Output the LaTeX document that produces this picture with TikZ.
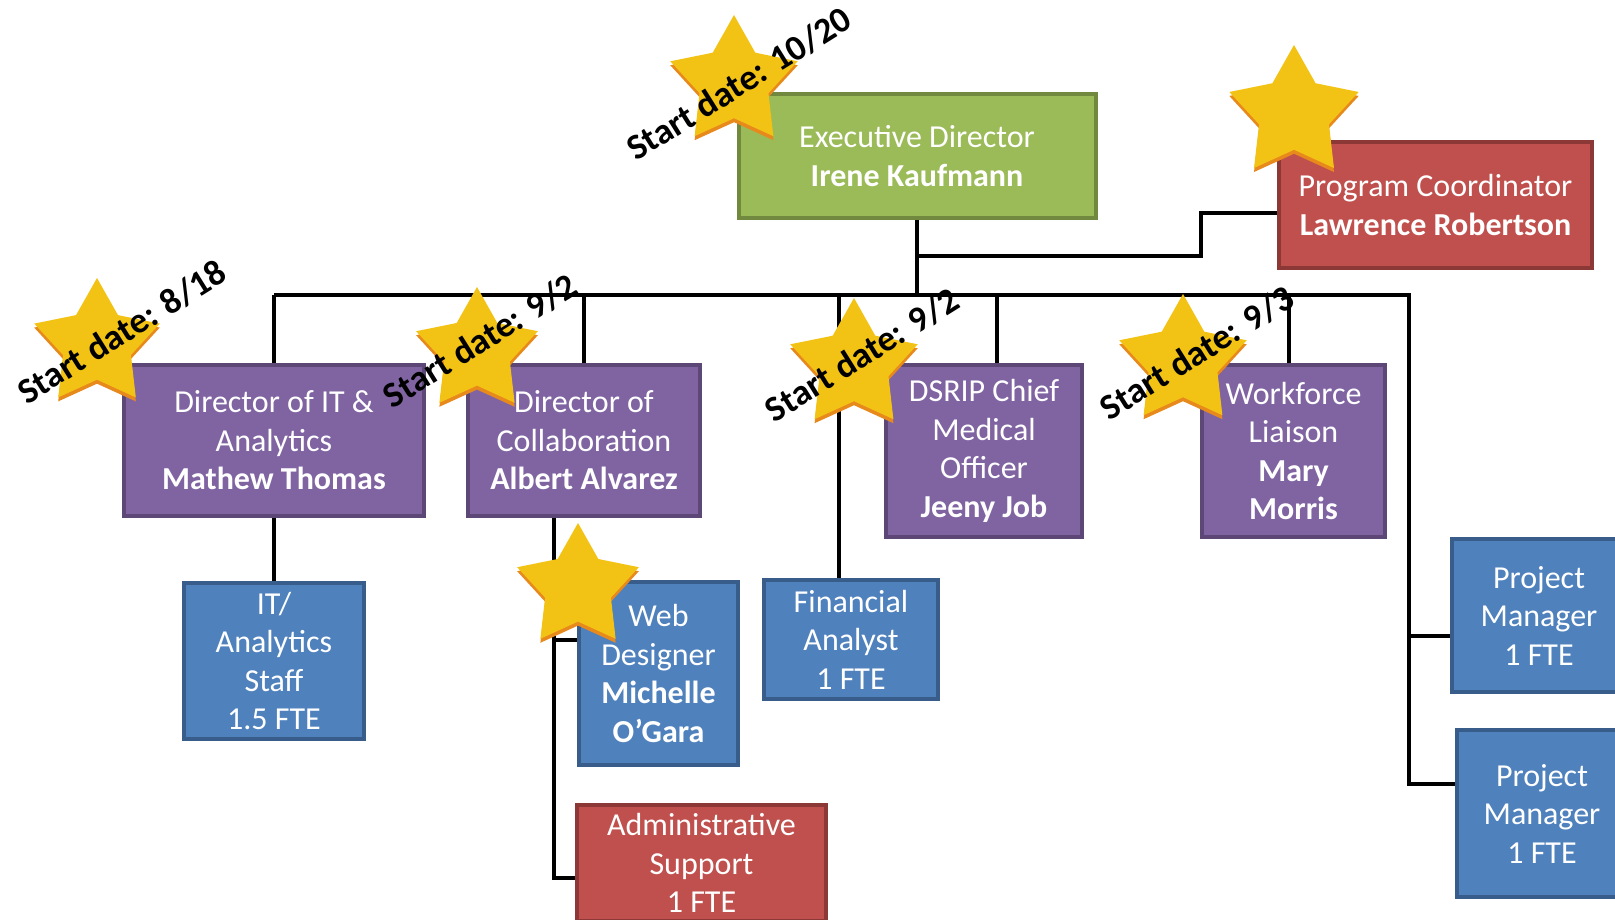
\documentclass[tikz,border=0pt]{standalone}
\usepackage{fontspec}
\setmainfont{Carlito}
\usetikzlibrary{shapes.geometric}

\definecolor{boxgreen}{HTML}{9BBB59}
\definecolor{boxgreenline}{HTML}{71893F}
\definecolor{boxred}{HTML}{C0504D}
\definecolor{boxredline}{HTML}{8C3836}
\definecolor{boxpurple}{HTML}{8064A2}
\definecolor{boxpurpleline}{HTML}{5C4776}
\definecolor{boxblue}{HTML}{4F81BD}
\definecolor{boxblueline}{HTML}{385D8A}
\definecolor{stargold}{HTML}{F2C314}
\definecolor{starorange}{HTML}{E8891C}

\begin{document}
\begin{tikzpicture}[x=1pt,y=-1pt,
  orgbox/.style={rectangle, line width=4pt, text=white, align=center, inner sep=0pt,
    font=\fontsize{32}{38.5}\selectfont},
  greenbox/.style={orgbox, fill=boxgreen, draw=boxgreenline},
  redbox/.style={orgbox, fill=boxred, draw=boxredline},
  purplebox/.style={orgbox, fill=boxpurple, draw=boxpurpleline},
  bluebox/.style={orgbox, fill=boxblue, draw=boxblueline},
  conn/.style={line width=4pt, draw=black},
  goldstar/.style={star, star points=5, star point ratio=1.85, inner sep=0pt, fill=stargold},
  startlabel/.style={rotate=32, inner sep=0pt, font=\fontsize{36}{40}\selectfont\bfseries}]

  \useasboundingbox (0,0) rectangle (1615,920);

  % Boxes
  \node[greenbox, minimum width=357pt, minimum height=124pt] (exec) at (917,156)
    {Executive Director\\\textbf{Irene Kaufmann}};
  \node[redbox, minimum width=313pt, minimum height=126pt] (progc) at (1435.5,205)
    {Program Coordinator\\\textbf{Lawrence Robertson}};

  \node[purplebox, minimum width=300pt, minimum height=151pt] (dirit) at (274,440.5)
    {Director of IT \&\\Analytics\\\textbf{Mathew Thomas}};
  \node[purplebox, minimum width=232pt, minimum height=151pt] (dircol) at (584,440.5)
    {Director of\\Collaboration\\\textbf{Albert Alvarez}};
  \node[purplebox, minimum width=196pt, minimum height=172pt] (dsrip) at (984,451)
    {DSRIP Chief\\Medical\\Officer\\\textbf{Jeeny Job}};
  \node[purplebox, minimum width=183pt, minimum height=172pt] (wfl) at (1293.5,451)
    {Workforce\\Liaison\\\textbf{Mary}\\\textbf{Morris}};

  \node[bluebox, minimum width=180pt, minimum height=156pt] (itstaff) at (274,661)
    {IT/\\Analytics\\Staff\\1.5 FTE};
  \node[bluebox, minimum width=159pt, minimum height=183pt] (webdes) at (658.5,673.5)
    {Web\\Designer\\\textbf{Michelle}\\\textbf{O’Gara}};
  \node[bluebox, minimum width=174pt, minimum height=119pt] (finan) at (851,639.5)
    {Financial\\Analyst\\1 FTE};
  \node[redbox, minimum width=249pt, minimum height=116pt] (admin) at (701.5,863)
    {Administrative\\Support\\1 FTE};
  \node[bluebox, minimum width=174pt, minimum height=153pt] (pmA) at (1539,615.5)
    {Project\\Manager\\1 FTE};
  \node[bluebox, minimum width=170pt, minimum height=167pt] (pmB) at (1542,813.5)
    {Project\\Manager\\1 FTE};

  % Connectors
  \coordinate (busL) at (274,295);
  \coordinate (busR) at (1409,295);
  \coordinate (pcA) at (917,256);
  \coordinate (pcB) at (1201,213);
  \coordinate (dFin) at (839,295);
  \coordinate (dDsrip) at (997,295);
  \coordinate (dWfl) at (1289,295);
  \coordinate (cWeb) at (554,640);
  \coordinate (cAdm) at (554,878);
  \coordinate (rPmA) at (1409,636);
  \coordinate (rPmB) at (1409,784);

  \draw[conn] (exec.south) -- (exec.south |- busL);
  \draw[conn] (pcA) -| (pcB) -- (pcB -| progc.west);
  \draw[conn] (busL) -- (busR) -- (rPmB) -- (rPmB -| pmB.west);
  \draw[conn] (rPmA) -- (rPmA -| pmA.west);
  \draw[conn] (busL) -- (dirit.north);
  \draw[conn] (dircol.north |- busL) -- (dircol.north);
  \draw[conn] (dFin) -- (dFin |- finan.north);
  \draw[conn] (dDsrip) -- (dDsrip |- dsrip.north);
  \draw[conn] (dWfl) -- (dWfl |- wfl.north);
  \draw[conn] (dirit.south) -- (itstaff.north);
  \draw[conn] (cWeb |- dircol.south) -- (cAdm) -- (cAdm -| admin.west);
  \draw[conn] (cWeb) -- (cWeb -| webdes.west);

  % Stars with their orange edge
  \foreach \nm/\cx/\cy/\d in {sExec/734/82/134, sProg/1294/113/136, sIt/97/344/132,
      sCol/477/351/128, sDsrip/854/365/134, sWfl/1183/361/134, sWeb/578/587/128} {
    \node[goldstar, fill=starorange, minimum size=\d pt] (\nm-sh) at (\cx,\cy+4) {};
    \node[goldstar, minimum size=\d pt] (\nm) at (\cx,\cy) {};
  }

  % Start dates
  \node[startlabel] (lExec) at (739,84) {Start date: 10/20};
  \node[startlabel] (lIt) at (122,332) {Start date: 8/18};
  \node[startlabel] (lCol) at (480,341) {Start date: 9/2};
  \node[startlabel] (lDsrip) at (862,355) {Start date: 9/2};
  \node[startlabel] (lWfl) at (1197,353) {Start date: 9/3};
\end{tikzpicture}
\end{document}
